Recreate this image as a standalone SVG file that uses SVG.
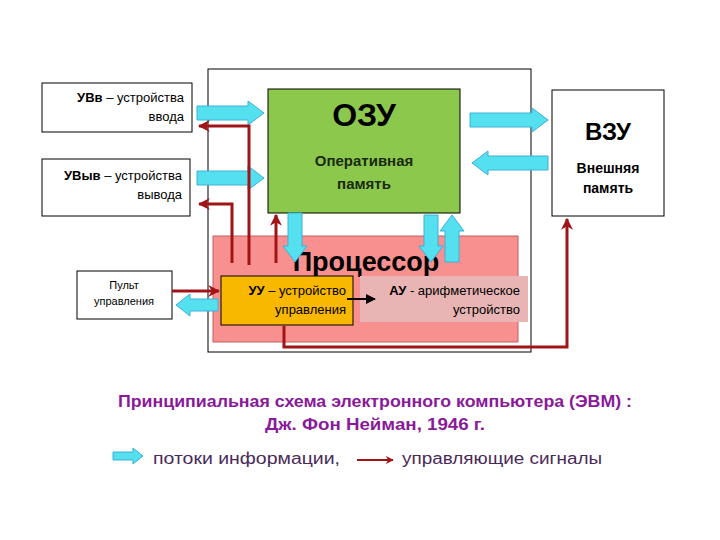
<svg xmlns="http://www.w3.org/2000/svg" width="720" height="540" viewBox="0 0 720 540">
<defs>
<marker id="rh" viewBox="0 0 10 10" refX="9" refY="5" markerWidth="4" markerHeight="4" orient="auto"><path d="M0,0 L10,5 L0,10 L3,5 Z" fill="#a01418"/></marker>
<marker id="bh" viewBox="0 0 10 10" refX="9" refY="5" markerWidth="5" markerHeight="5" orient="auto"><path d="M0,0 L10,5 L0,10 Z" fill="#000"/></marker>
</defs>
<style>
.box{fill:#fff;stroke:#000;stroke-width:1}
.t{font-family:"Liberation Sans",Arial,sans-serif}
.cy{fill:#55e0f0;stroke:#3ab0d8;stroke-width:1}
.rd{fill:none;stroke:#a01418;stroke-width:3;marker-end:url(#rh)}
</style>
<rect width="720" height="540" fill="#fff"/>
<g id="computer"><rect class="box" x="208" y="69" width="323" height="283"/></g>
<g id="processor"><rect x="213" y="236" width="305" height="106" fill="#f89090" stroke="#c06060"/>
<text class="t" x="366" y="271" font-size="27" font-weight="bold" text-anchor="middle">Процессор</text></g>
<g id="ozu"><rect x="268" y="89" width="192" height="124" fill="#8cc84b" stroke="#000"/>
<text class="t" x="364" y="126" font-size="32" font-weight="bold" text-anchor="middle">ОЗУ</text>
<text class="t" x="364" y="166" font-size="15" font-weight="bold" text-anchor="middle" fill="#1a2a10">Оперативная</text>
<text class="t" x="364" y="189" font-size="15" font-weight="bold" text-anchor="middle" fill="#1a2a10">память</text></g>
<g id="uvv"><rect class="box" x="42" y="83" width="150" height="49"/>
<text class="t" x="184" y="102" font-size="13" text-anchor="end"><tspan font-weight="bold">УВв</tspan> – устройства</text>
<text class="t" x="184" y="121" font-size="13" text-anchor="end">ввода</text></g>
<g id="uvyv"><rect class="box" x="42" y="159" width="148" height="57"/>
<text class="t" x="182" y="180" font-size="13" text-anchor="end"><tspan font-weight="bold">УВыв</tspan> – устройства</text>
<text class="t" x="182" y="199" font-size="13" text-anchor="end">вывода</text></g>
<g id="pult"><rect class="box" x="77" y="271" width="95" height="48"/>
<text class="t" x="124" y="289" font-size="11" text-anchor="middle">Пульт</text>
<text class="t" x="124" y="305" font-size="11" text-anchor="middle">управления</text></g>
<g id="uu"><rect x="221" y="276" width="132" height="49" fill="#f8b800" stroke="#000"/>
<text class="t" x="346" y="295" font-size="13" text-anchor="end"><tspan font-weight="bold">УУ</tspan> – устройство</text>
<text class="t" x="346" y="314" font-size="13" text-anchor="end">управления</text></g>
<g id="au"><rect x="360" y="276" width="168" height="46" fill="#e8b4b4"/>
<text class="t" x="520" y="295" font-size="13" text-anchor="end"><tspan font-weight="bold">АУ</tspan> - арифметическое</text>
<text class="t" x="520" y="314" font-size="13" text-anchor="end">устройство</text></g>
<g id="vzu"><rect class="box" x="552" y="90" width="112" height="126"/>
<text class="t" x="608" y="140" font-size="24" font-weight="bold" text-anchor="middle">ВЗУ</text>
<text class="t" x="608" y="173" font-size="14" font-weight="bold" text-anchor="middle">Внешняя</text>
<text class="t" x="608" y="193" font-size="14" font-weight="bold" text-anchor="middle">память</text></g>
<g id="connectors">
<polygon class="cy" points="197,106 248,106 248,101 264,113 248,125 248,120 197,120"/>
<polygon class="cy" points="197,171 248,171 248,166 264,178 248,190 248,185 197,185"/>
<polygon class="cy" points="470,113 532,113 532,108 548,120 532,132 532,127 470,127"/>
<polygon class="cy" points="548,156 488,156 488,151 472,163 488,175 488,170 548,170"/>
<polygon class="cy" points="218,299 190,299 190,294 176,305 190,316 190,311 218,311"/>
<polygon class="cy" points="288,213 302,213 302,246 307,246 295,262 283,246 288,246"/>
<polygon class="cy" points="424,215 438,215 438,246 443,246 431,262 419,246 424,246"/>
<polygon class="cy" points="445,262 459,262 459,231 464,231 452,215 440,231 445,231"/>
<polyline class="rd" points="249,265 249,126 199,126"/>
<polyline class="rd" points="232,263 232,204 199,204"/>
<polyline class="rd" points="276,263 276,215"/>
<polyline class="rd" points="172,291 219,291"/>
<polyline class="rd" points="284,326 284,347 567,347 567,219"/>
<line x1="347" y1="299" x2="375" y2="299" stroke="#000" stroke-width="2" marker-end="url(#bh)"/>
</g>
<g id="caption">
<text class="t" x="118" y="407" font-size="16" font-weight="bold" fill="#8a1a9a" textLength="514" lengthAdjust="spacingAndGlyphs">Принципиальная схема электронного компьютера (ЭВМ) :</text>
<text class="t" x="265" y="430" font-size="16" font-weight="bold" fill="#8a1a9a" textLength="220" lengthAdjust="spacingAndGlyphs">Дж. Фон Нейман,  1946 г.</text>
</g>
<g id="legend">
<polygon class="cy" points="113,452 133,452 133,448 143,456 133,464 133,460 113,460"/>
<text class="t" x="153" y="464" font-size="16" fill="#4a2a5a" textLength="187" lengthAdjust="spacingAndGlyphs">потоки информации,</text>
<line x1="357" y1="460" x2="393" y2="460" stroke="#a01418" stroke-width="2" marker-end="url(#rh)"/>
<text class="t" x="402" y="464" font-size="16" fill="#4a2a5a" textLength="200" lengthAdjust="spacingAndGlyphs">управляющие сигналы</text>
</g>
</svg>
